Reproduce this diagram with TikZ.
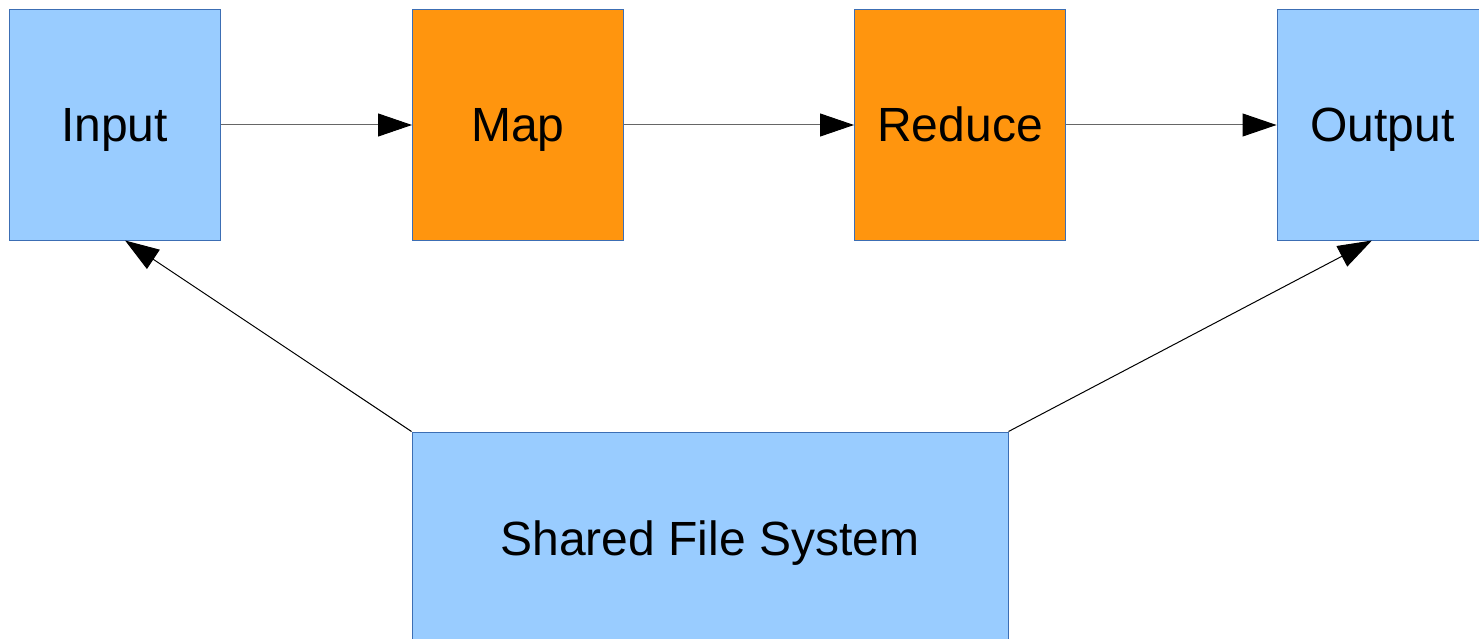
\documentclass[tikz,border=0pt]{standalone}
\usepackage{fontspec}
\setmainfont{Liberation Sans}
\usetikzlibrary{arrows.meta,calc}
\definecolor{boxblue}{HTML}{99CCFF}
\definecolor{boxorange}{HTML}{FF950E}
\definecolor{edgeblue}{HTML}{3C6EB4}
\tikzset{
  blk/.style={draw=edgeblue, line width=1pt, inner sep=0pt, minimum width=211pt, minimum height=230pt, text height=36pt, text depth=2pt, font=\fontsize{48}{54}\selectfont},
  bluebox/.style={blk, fill=boxblue},
  orangebox/.style={blk, fill=boxorange},
  conn/.style={line width=1pt, -{Triangle[length=34pt,width=23pt,color=black]}},
}
\begin{document}
\begin{tikzpicture}[x=1pt,y=-1pt]
\useasboundingbox (0,0) rectangle (1479,639);
\clip (0,0) rectangle (1479,639);
\node[bluebox] (input) at (114.5,125) {Input};
\node[orangebox] (map) at (518,125) {Map};
\node[orangebox] (reduce) at (960,125) {Reduce};
\node[bluebox] (output) at (1382.5,125) {Output};
\node[bluebox, minimum width=596pt, minimum height=212pt] (sfs) at (710,538) {Shared File System};
\draw[conn, draw=black!60] (input.east) -- (map.west);
\draw[conn, draw=black!60] (map.east) -- (reduce.west);
\draw[conn, draw=black!60] (reduce.east) -- (output.west);
\draw[conn] (sfs.north west) -- ($(input.south west)!0.55!(input.south east)$);
\draw[conn] (sfs.north east) -- ($(output.south west)!0.45!(output.south east)$);
\end{tikzpicture}
\end{document}
